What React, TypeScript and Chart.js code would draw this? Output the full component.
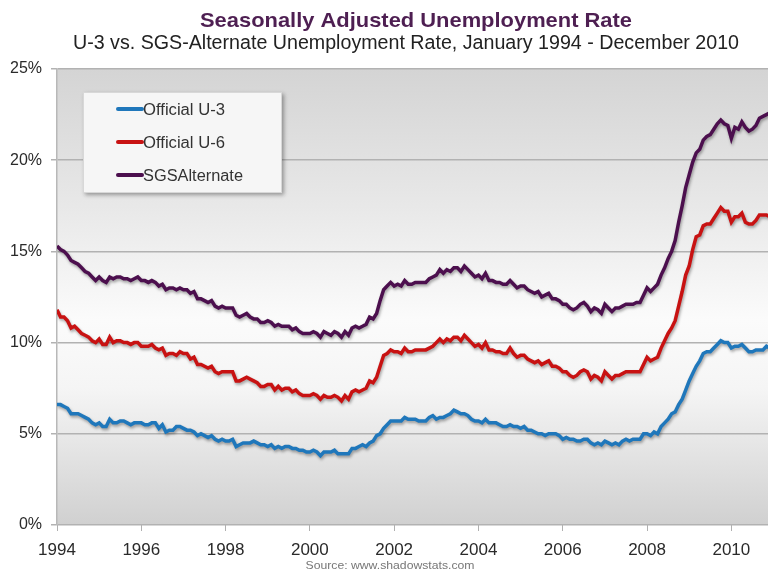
import React, { useEffect, useRef } from "react";
import { Chart, registerables } from "chart.js";

Chart.register(...registerables);

const startYear = 1994;
const yearTicks = [1994, 1996, 1998, 2000, 2002, 2004, 2006, 2008, 2010];
const yTicks = [0, 5, 10, 15, 20, 25];

const titleText = "Seasonally Adjusted Unemployment Rate";
const subtitleText = "U-3 vs. SGS-Alternate Unemployment Rate, January 1994 - December 2010";
const sourceText = "Source: www.shadowstats.com";

const seriesNames = ["Official U-3", "Official U-6", "SGSAlternate"];
const seriesColors = ["#1f77bb", "#c81212", "#4c0f4e"];

// Monthly values, Jan 1994 - Dec 2010
const u3 = [
  6.6, 6.6, 6.5, 6.4, 6.1, 6.1, 6.1, 6.0, 5.9, 5.8, 5.6, 5.5,
  5.6, 5.4, 5.4, 5.8, 5.6, 5.6, 5.7, 5.7, 5.6, 5.5, 5.6, 5.6,
  5.6, 5.5, 5.5, 5.6, 5.6, 5.3, 5.5, 5.1, 5.2, 5.2, 5.4, 5.4,
  5.3, 5.2, 5.2, 5.1, 4.9, 5.0, 4.9, 4.8, 4.9, 4.7, 4.6, 4.7,
  4.6, 4.6, 4.7, 4.3, 4.4, 4.5, 4.5, 4.5, 4.6, 4.5, 4.4, 4.4,
  4.3, 4.4, 4.2, 4.3, 4.2, 4.3, 4.3, 4.2, 4.2, 4.1, 4.1, 4.0,
  4.0, 4.1, 4.0, 3.8, 4.0, 4.0, 4.0, 4.1, 3.9, 3.9, 3.9, 3.9,
  4.2, 4.2, 4.3, 4.4, 4.3, 4.5, 4.6, 4.9, 5.0, 5.3, 5.5, 5.7,
  5.7, 5.7, 5.7, 5.9, 5.8, 5.8, 5.8, 5.7, 5.7, 5.7, 5.9, 6.0,
  5.8, 5.9, 5.9, 6.0, 6.1, 6.3, 6.2, 6.1, 6.1, 6.0, 5.8, 5.7,
  5.7, 5.6, 5.8, 5.6, 5.6, 5.6, 5.5, 5.4, 5.4, 5.5, 5.4, 5.4,
  5.3, 5.4, 5.2, 5.2, 5.1, 5.0, 5.0, 4.9, 5.0, 5.0, 5.0, 4.9,
  4.7, 4.8, 4.7, 4.7, 4.6, 4.6, 4.7, 4.7, 4.5, 4.4, 4.5, 4.4,
  4.6, 4.5, 4.4, 4.5, 4.4, 4.6, 4.7, 4.6, 4.7, 4.7, 4.7, 5.0,
  5.0, 4.9, 5.1, 5.0, 5.4, 5.6, 5.8, 6.1, 6.2, 6.6, 6.9, 7.4,
  7.9, 8.3, 8.7, 9.0, 9.4, 9.5, 9.5, 9.7, 9.9, 10.1, 10.0, 10.0,
  9.7, 9.8, 9.8, 9.9, 9.7, 9.5, 9.5, 9.6, 9.6, 9.6, 9.8, 9.7,
];

const u6 = [
  11.8, 11.4, 11.4, 11.2, 10.8, 10.9, 10.7, 10.5, 10.4, 10.3, 10.1, 10.0,
  10.2, 9.9, 9.9, 10.3, 10.0, 10.1, 10.1, 10.0, 10.0, 9.9, 10.0, 10.0,
  9.8, 9.8, 9.8, 9.9, 9.7, 9.6, 9.7, 9.3, 9.4, 9.4, 9.3, 9.5,
  9.4, 9.4, 9.1, 9.2, 8.8, 8.8, 8.7, 8.6, 8.7, 8.4, 8.3, 8.4,
  8.4, 8.4, 8.4, 7.9, 7.9, 8.0, 8.1, 8.0, 7.9, 7.8, 7.6, 7.6,
  7.7, 7.7, 7.4, 7.6, 7.4, 7.5, 7.5, 7.3, 7.4, 7.2, 7.1, 7.1,
  7.1, 7.2, 7.1, 6.9, 7.1, 7.0, 7.0, 7.1, 7.0, 6.8, 7.1, 6.9,
  7.3, 7.4, 7.3, 7.4, 7.5, 7.9, 7.8, 8.1, 8.7, 9.3, 9.4, 9.6,
  9.5, 9.5, 9.4, 9.7, 9.5, 9.5, 9.6, 9.6, 9.6, 9.6, 9.7, 9.8,
  10.0, 10.2, 10.0, 10.2, 10.1, 10.3, 10.3, 10.1, 10.4, 10.2, 10.0, 9.8,
  9.9, 9.7, 10.0, 9.6, 9.6, 9.5, 9.5, 9.4, 9.4, 9.7, 9.4, 9.2,
  9.3, 9.3, 9.1, 9.0, 8.9, 9.0, 8.8, 8.9, 9.0, 8.7, 8.7, 8.6,
  8.4, 8.4, 8.2, 8.1, 8.2, 8.4, 8.5, 8.4, 8.0, 8.2, 8.1, 7.9,
  8.4, 8.2, 8.0, 8.2, 8.2, 8.3, 8.4, 8.4, 8.4, 8.4, 8.4, 8.8,
  9.2, 9.0, 9.1, 9.2, 9.7, 10.1, 10.5, 10.8, 11.2, 12.0, 12.8, 13.7,
  14.2, 15.1, 15.8, 15.9, 16.4, 16.5, 16.5, 16.8, 17.1, 17.4, 17.2, 17.2,
  16.6, 16.9, 16.9, 17.1, 16.6, 16.5, 16.5, 16.7, 17.0, 17.0, 17.0, 16.9,
];

const sgs = [
  15.3, 15.1, 15.0, 14.8, 14.5, 14.4, 14.3, 14.1, 13.9, 13.8, 13.6, 13.4,
  13.6, 13.4, 13.3, 13.6, 13.5, 13.6, 13.6, 13.5, 13.5, 13.4, 13.5, 13.6,
  13.4, 13.4, 13.3, 13.4, 13.3, 13.1, 13.2, 12.9, 13.0, 13.0, 12.9, 13.0,
  12.9, 12.9, 12.7, 12.8, 12.4, 12.4, 12.3, 12.2, 12.3, 12.0, 11.9, 12.0,
  11.9, 11.9, 11.9, 11.5, 11.4, 11.5, 11.6, 11.4, 11.3, 11.3, 11.1, 11.1,
  11.2, 11.1, 10.9, 11.0, 10.9, 10.9, 10.9, 10.7, 10.8, 10.6, 10.5, 10.5,
  10.5, 10.6, 10.5, 10.3, 10.6, 10.5, 10.4, 10.6, 10.5, 10.3, 10.6, 10.4,
  10.8, 10.9, 10.8, 10.9, 11.0, 11.4, 11.3, 11.6, 12.3, 12.9, 13.1, 13.3,
  13.1, 13.2, 13.1, 13.4, 13.2, 13.2, 13.3, 13.3, 13.3, 13.3, 13.5, 13.6,
  13.7, 14.0, 13.8, 14.0, 13.9, 14.1, 14.1, 13.9, 14.2, 14.0, 13.8, 13.6,
  13.7, 13.5, 13.8, 13.4, 13.4, 13.3, 13.3, 13.2, 13.2, 13.4, 13.2, 13.0,
  13.1, 13.1, 12.9, 12.8, 12.7, 12.8, 12.5, 12.6, 12.7, 12.4, 12.4, 12.3,
  12.1, 12.1, 11.9, 11.8, 11.9, 12.1, 12.2, 12.0, 11.7, 11.9, 11.8, 11.6,
  12.1, 11.9, 11.7, 11.9, 11.9, 12.0, 12.1, 12.1, 12.1, 12.2, 12.2, 12.6,
  13.0, 12.8, 13.0, 13.2, 13.7, 14.1, 14.6, 15.0, 15.6, 16.6, 17.5, 18.5,
  19.2, 19.9, 20.4, 20.6, 21.1, 21.3, 21.4, 21.7, 22.0, 22.2, 22.0, 21.9,
  21.2, 21.8, 21.7, 22.1, 21.8, 21.6, 21.7, 21.9, 22.3, 22.4, 22.5, 22.6,
];

const seriesValues = [u3, u6, sgs];

function toPoints(values: number[]) {
  return values.map((v, i) => ({ x: startYear + i / 12, y: v }));
}

function drawFitText(
  ctx: CanvasRenderingContext2D,
  text: string,
  x: number,
  y: number,
  width: number,
  font: string,
  color: string,
  align: "left" | "center"
) {
  ctx.save();
  ctx.font = font;
  ctx.fillStyle = color;
  ctx.textBaseline = "alphabetic";
  ctx.textAlign = align;
  const w = ctx.measureText(text).width;
  ctx.translate(x, y);
  ctx.scale(width / w, 1);
  ctx.fillText(text, 0, 0);
  ctx.restore();
}

const decorPlugin = {
  id: "decor",
  beforeDraw(chart: any) {
    const { ctx, chartArea } = chart;
    const { left, right, top, bottom } = chartArea;
    ctx.save();
    ctx.fillStyle = "#ffffff";
    ctx.fillRect(0, 0, chart.width, chart.height);
    const g = ctx.createLinearGradient(0, top, 0, bottom);
    g.addColorStop(0, "#d4d4d4");
    g.addColorStop(0.3, "#e8e8e8");
    g.addColorStop(0.55, "#fbfbfb");
    g.addColorStop(0.7, "#f5f5f5");
    g.addColorStop(1, "#d0d0d0");
    ctx.fillStyle = g;
    ctx.fillRect(left, top, right - left, bottom - top);
    ctx.restore();

    drawFitText(ctx, titleText, 416, 27, 432, "bold 21px 'Liberation Sans', Arial, sans-serif", "#4e1f52", "center");
    drawFitText(ctx, subtitleText, 406, 49, 666, "20px 'Liberation Sans', Arial, sans-serif", "#222222", "center");
    drawFitText(ctx, sourceText, 390, 569, 169, "11px 'Liberation Sans', Arial, sans-serif", "#777777", "center");
  },
  beforeDatasetsDraw(chart: any) {
    const ctx = chart.ctx;
    ctx.save();
    ctx.shadowColor = "rgba(0,0,0,0.35)";
    ctx.shadowBlur = 3;
    ctx.shadowOffsetX = 1;
    ctx.shadowOffsetY = 2;
  },
  afterDatasetsDraw(chart: any) {
    const ctx = chart.ctx;
    ctx.restore();
    // Legend box
    const bx = 83, by = 92, bw = 199, bh = 101;
    ctx.save();
    ctx.shadowColor = "rgba(0,0,0,0.35)";
    ctx.shadowBlur = 4;
    ctx.shadowOffsetX = 2;
    ctx.shadowOffsetY = 2;
    ctx.fillStyle = "#f6f6f6";
    ctx.fillRect(bx, by, bw, bh);
    ctx.restore();
    ctx.save();
    ctx.strokeStyle = "#d8d8d8";
    ctx.lineWidth = 1;
    ctx.strokeRect(bx + 0.5, by + 0.5, bw - 1, bh - 1);
    ctx.restore();
    const rows = [109, 142, 175];
    const widths = [82, 82, 100];
    seriesNames.forEach((name, i) => {
      ctx.save();
      ctx.strokeStyle = seriesColors[i];
      ctx.lineWidth = 4;
      ctx.lineCap = "round";
      ctx.beginPath();
      ctx.moveTo(118, rows[i]);
      ctx.lineTo(142, rows[i]);
      ctx.stroke();
      ctx.restore();
      drawFitText(ctx, name, 143, rows[i] + 5.5, widths[i], "16px 'Liberation Sans', Arial, sans-serif", "#333333", "left");
    });
  },
};

export default function App() {
  const canvasRef = useRef<HTMLCanvasElement | null>(null);

  useEffect(() => {
    if (!canvasRef.current) return;
    const chart = new Chart(canvasRef.current, {
      type: "line",
      data: {
        datasets: seriesNames.map((name, i) => ({
          label: name,
          data: toPoints(seriesValues[i]),
          borderColor: seriesColors[i],
          backgroundColor: seriesColors[i],
          borderWidth: 3.5,
          pointRadius: 0,
          tension: 0,
          fill: false,
        })),
      },
      options: {
        animation: false,
        responsive: false,
        maintainAspectRatio: false,
        layout: { padding: { top: 69, right: 2, left: 0, bottom: 0 } },
        plugins: {
          legend: { display: false },
          title: { display: false },
          tooltip: { enabled: false },
        },
        scales: {
          x: {
            type: "linear",
            min: startYear,
            max: 2010.87,
            afterBuildTicks: (scale: any) => {
              scale.ticks = yearTicks.map((v) => ({ value: v }));
            },
            afterFit: (scale: any) => {
              scale.height = 55;
            },
            ticks: {
              callback: (v: any) => String(v),
              font: { family: "'Liberation Sans', Arial, sans-serif", size: 17 },
              color: "#2a2a2a",
              padding: 9,
              maxRotation: 0,
              autoSkip: false,
            },
            grid: {
              drawOnChartArea: false,
              drawTicks: true,
              tickLength: 6,
              color: "#b0b0b0",
            },
            border: { display: false },
          },
          y: {
            type: "linear",
            min: 0,
            max: 25,
            afterBuildTicks: (scale: any) => {
              scale.ticks = yTicks.map((v) => ({ value: v }));
            },
            afterFit: (scale: any) => {
              scale.width = 57;
            },
            ticks: {
              callback: (v: any) => v + "%",
              font: { family: "'Liberation Sans', Arial, sans-serif", size: 16 },
              color: "#2a2a2a",
              padding: 9,
            },
            grid: {
              color: "#b2b2b2",
              lineWidth: 1.5,
              tickLength: 6,
              drawTicks: true,
            },
            border: { display: true, color: "#b8b8b8", width: 1.5 },
          },
        },
      },
      plugins: [decorPlugin],
    });
    return () => chart.destroy();
  }, []);

  return (
    <div style={{ position: "fixed", left: 0, top: 0, width: 770, height: 580, background: "#ffffff" }}>
      <canvas ref={canvasRef} width={770} height={580} style={{ width: 770, height: 580, display: "block" }} />
    </div>
  );
}
